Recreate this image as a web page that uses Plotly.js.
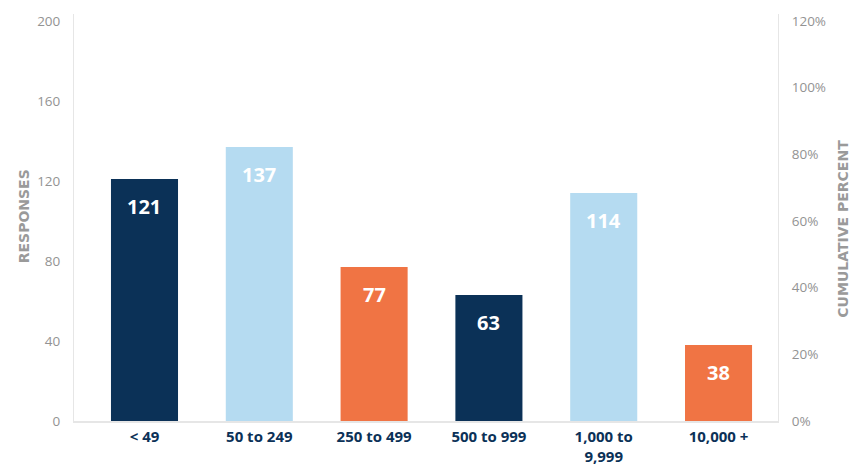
<!DOCTYPE html>
<html>
<head>
<meta charset="utf-8">
<script src="https://cdn.plot.ly/plotly-3.0.1.min.js"></script>
<style>html,body{margin:0;padding:0;background:#fff;}#chart{width:862px;height:465px;}</style>
</head>
<body>
<div id="chart"></div>
<script>
// Company size categories and survey response counts
const categories = ['< 49', '50 to 249', '250 to 499', '500 to 999', '1,000 to<br>9,999', '10,000 +'];
const responses = [121, 137, 77, 63, 114, 38];
const barColors = ['#0b3157', '#b5dbf1', '#f07444', '#0b3157', '#b5dbf1', '#f07444'];
const leftTicks = [0, 40, 80, 120, 160, 200];
const rightTicks = [0, 0.2, 0.4, 0.6, 0.8, 1.0, 1.2];
const rightTickLabels = ['0%', '20%', '40%', '60%', '80%', '100%', '120%'];

const labelFont = '"Open Sans", Lato, sans-serif';
const titleFont = '"DejaVu Sans", "Open Sans", sans-serif';

const bars = {
  type: 'bar',
  x: categories,
  y: responses,
  marker: {color: barColors},
  width: 0.584,
  hoverinfo: 'x+y'
};

// empty trace that binds the right-hand percent axis
const percentAxisHolder = {
  type: 'scatter', mode: 'lines',
  x: [], y: [],
  yaxis: 'y2', hoverinfo: 'skip', showlegend: false
};

// value labels placed just inside the top of each bar
const valueLabels = categories.map((c, i) => ({
  x: c, y: responses[i], xref: 'x', yref: 'y',
  text: String(responses[i]), showarrow: false,
  yanchor: 'top', yshift: -12,
  font: {family: labelFont, size: 20, color: '#ffffff', weight: 'bold'}
}));

const axisTitles = [
  {text: 'RESPONSES', xref: 'paper', yref: 'paper', x: -0.071, y: 0.503,
   xanchor: 'center', yanchor: 'middle', textangle: -90, showarrow: false,
   font: {family: titleFont, size: 14, color: '#9a9a9a', weight: 'bold'}},
  {text: 'CUMULATIVE PERCENT', xref: 'paper', yref: 'paper', x: 1.092, y: 0.472,
   xanchor: 'center', yanchor: 'middle', textangle: -90, showarrow: false,
   font: {family: titleFont, size: 14, color: '#9a9a9a', weight: 'bold'}}
];

const layout = {
  width: 862, height: 465,
  margin: {l: 74, r: 84, t: 14, b: 44},
  paper_bgcolor: '#fff', plot_bgcolor: '#fff',
  showlegend: false,
  xaxis: {
    type: 'category',
    range: [-0.614, 5.518],
    showgrid: false, zeroline: false,
    showline: true, linecolor: '#e6e6e6', linewidth: 2,
    ticks: '', ticklabelstandoff: 1,
    tickfont: {family: labelFont, size: 15, color: '#0b3157', weight: 'bold'}
  },
  yaxis: {
    range: [0, 203.5],
    tickvals: leftTicks,
    showgrid: false, zeroline: false,
    showline: true, linecolor: '#e6e6e6', linewidth: 1,
    ticks: '', ticklabelstandoff: 10,
    tickfont: {family: labelFont, size: 13.5, color: '#939393'}
  },
  yaxis2: {
    overlaying: 'y', side: 'right', anchor: 'x',
    range: [0, 1.221],
    tickvals: rightTicks, ticktext: rightTickLabels,
    showgrid: false, zeroline: false,
    showline: true, linecolor: '#e6e6e6', linewidth: 1,
    ticks: '', ticklabelstandoff: 10,
    tickfont: {family: labelFont, size: 13.5, color: '#939393'}
  },
  annotations: valueLabels.concat(axisTitles)
};

Plotly.newPlot('chart', [bars, percentAxisHolder], layout, {displayModeBar: false, staticPlot: true});
</script>
</body>
</html>
